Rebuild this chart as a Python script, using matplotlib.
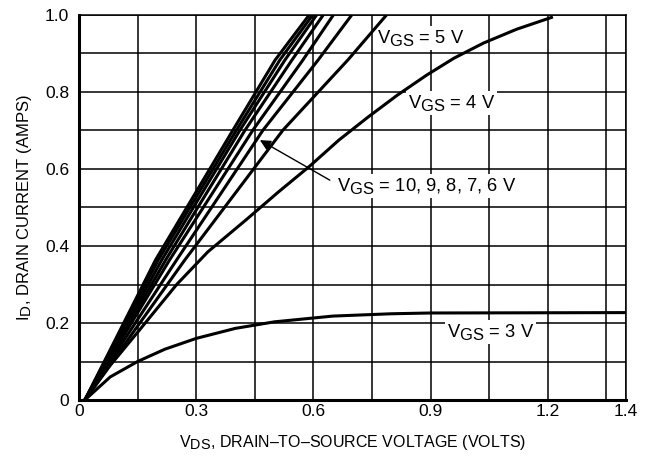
import numpy as np
import matplotlib
matplotlib.use("Agg")
import matplotlib.pyplot as plt
import matplotlib._mathtext as _mt

# bigger subscripts, like the datasheet lettering
_mt.SHRINK_FACTOR = 0.9

plt.rcParams["font.family"] = ["Liberation Sans", "DejaVu Sans"]
plt.rcParams["mathtext.fontset"] = "custom"
plt.rcParams["mathtext.rm"] = "Liberation Sans"
plt.rcParams["mathtext.it"] = "Liberation Sans"

# Steep family (VGS = 10, 9, 8, 7, 6 V and 5 V): drain voltage read at these currents
steep_id = [0.0, 0.364, 0.701, 0.883, 1.0]
steep_vds = [
    [0.015, 0.196, 0.394, 0.502, 0.589],
    [0.015, 0.203, 0.403, 0.514, 0.598],
    [0.015, 0.212, 0.412, 0.527, 0.608],
    [0.015, 0.222, 0.425, 0.545, 0.625],
    [0.015, 0.232, 0.445, 0.573, 0.651],
    [0.015, 0.250, 0.471, 0.612, 0.698],
    [0.015, 0.271, 0.522, 0.688, 0.787],
]

# VGS = 4 V
vgs4_vds = [0.015, 0.08, 0.155, 0.25, 0.33, 0.43, 0.51, 0.59, 0.665, 0.74, 0.815, 0.89, 0.96, 1.035, 1.12, 1.213]
vgs4_id = [0.0, 0.09, 0.182, 0.30, 0.385, 0.47, 0.54, 0.607, 0.675, 0.735, 0.792, 0.844, 0.888, 0.927, 0.963, 0.995]

# VGS = 3 V
vgs3_vds = [0.015, 0.08, 0.15, 0.22, 0.3, 0.4, 0.5, 0.65, 0.8, 0.9, 1.4]
vgs3_id = [0.0, 0.06, 0.10, 0.132, 0.16, 0.186, 0.203, 0.218, 0.224, 0.226, 0.227]

x_ticks = [0, 0.3, 0.6, 0.9, 1.2, 1.4]
x_tick_labels = ["0", "0.3", "0.6", "0.9", "1.2", "1.4"]
y_ticks = [0, 0.2, 0.4, 0.6, 0.8, 1.0]
y_tick_labels = ["0", "0.2", "0.4", "0.6", "0.8", "1.0"]

fig = plt.figure(figsize=(6.54, 4.65), dpi=100)
ax = fig.add_axes([79 / 654, 65 / 465, 547 / 654, 385 / 465])

for vds in steep_vds:
    ax.plot(vds, steep_id, color="black", lw=2.2, zorder=4, solid_capstyle="butt")
ax.plot(vgs4_vds, vgs4_id, color="black", lw=2.2, zorder=4, solid_capstyle="butt")
ax.plot(vgs3_vds, vgs3_id, color="black", lw=2.2, zorder=4, solid_capstyle="butt")

ax.set_xlim(0, 1.4)
ax.set_ylim(0, 1.0)
ax.set_xticks(x_ticks)
ax.set_xticklabels(x_tick_labels)
ax.set_xticks(np.arange(0.15, 1.36, 0.3), minor=True)
ax.set_yticks(y_ticks)
ax.set_yticklabels(y_tick_labels)
ax.set_yticks(np.arange(0.1, 1.0, 0.2), minor=True)
ax.tick_params(which="both", length=0, labelsize=12.5)
ax.tick_params(axis="x", pad=3)
ax.tick_params(axis="y", pad=7)
ax.grid(True, which="both", color="black", lw=1.1, zorder=1)
ax.set_axisbelow(True)

ax.spines["left"].set_linewidth(2.2)
ax.spines["bottom"].set_linewidth(2.2)
ax.spines["top"].set_linewidth(1.1)
ax.spines["right"].set_linewidth(1.1)

box = dict(fc="white", ec="none", pad=1.5)
lab = dict(fontsize=13.2, va="center", ha="left", bbox=box, zorder=3)
ax.text(0.763, 0.94, r"$\mathregular{V_{GS}}$ = 5 V", **lab)
ax.text(0.842, 0.771, r"$\mathregular{V_{GS}}$ = 4 V", **lab)
ax.text(0.66, 0.556, r"$\mathregular{V_{GS}}$ = 10, 9, 8, 7, 6 V", **lab)
ax.text(0.942, 0.177, r"$\mathregular{V_{GS}}$ = 3 V", **lab)

ax.annotate("", xy=(0.463, 0.675), xytext=(0.642, 0.571),
            arrowprops=dict(arrowstyle="-|>", lw=1.0, color="black",
                            mutation_scale=16, shrinkA=0, shrinkB=0),
            zorder=5)

ax.set_xlabel(r"$\mathregular{V_{DS}}$, DRAIN–TO–SOURCE VOLTAGE (VOLTS)", fontsize=11.5, labelpad=10)
ax.set_ylabel(r"$\mathregular{I_{D}}$, DRAIN CURRENT (AMPS)", fontsize=12, labelpad=8)

fig.savefig("out.png", dpi=100)
